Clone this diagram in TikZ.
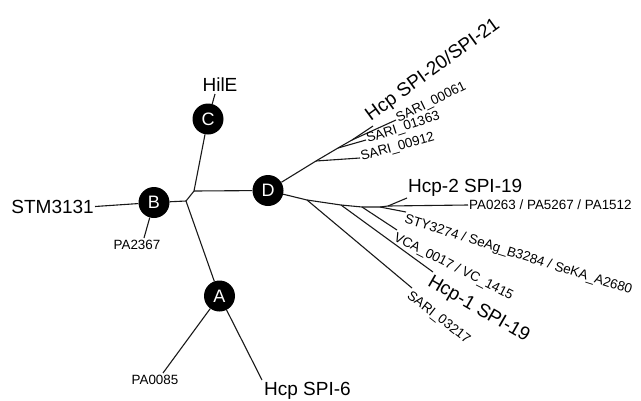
\documentclass[tikz,border=0pt]{standalone}
\usepackage{fontspec}
\setmainfont{Liberation Sans}
\usepackage{tikz}

\begin{document}
\begin{tikzpicture}[x=1pt, y=-1pt,
                hub/.style={circle, fill=black, inner sep=0pt, minimum size=31pt,
                  text=white, font=\fontsize{18}{20}\selectfont},
                branch/.style={draw=black!90, line width=1.1pt},
                smalllabel/.style={inner sep=1pt, font=\fontsize{13.4}{15}\selectfont},
                biglabel/.style={inner sep=1pt, font=\fontsize{19}{22}\selectfont}
              ]
              \useasboundingbox (0,0) rectangle (641,400);
              % internal nodes
              \node [hub] at (154,202.5) (b) {B};
              \node [hub] at (208,119) (c) {C};
              \node [hub] at (268,190.5) (d) {D};
              \node [hub] at (219.5,296) (a) {A};
              \coordinate (j1) at (186,201);
              \coordinate (j2) at (194,191);
              % inner joints under D
              \coordinate (u1) at (316,161);
              \coordinate (u2) at (338,148);
              \coordinate (u3) at (352,140);
              \coordinate (l1) at (307,200);
              \coordinate (l2) at (341,205);
              \coordinate (l3) at (362,207);
              \coordinate (l4) at (380,207);
              \coordinate (l5) at (388,206);
              % leaf ends
              \coordinate (stm) at (95,206.5);
              \coordinate (pa2367) at (144,238);
              \coordinate (hile) at (215,94);
              \coordinate (pa0085) at (163,373);
              \coordinate (spi6) at (262,380);
              \coordinate (spi20) at (373,126);
              \coordinate (sari61) at (396,120);
              \coordinate (sari1363) at (366,140);
              \coordinate (sari912) at (360,158);
              \coordinate (spi19b) at (407,198);
              \coordinate (pa0263) at (468,205);
              \coordinate (sty) at (406,212);
              \coordinate (vca) at (397,230);
              \coordinate (spi19a) at (433,272);
              \coordinate (sari3217) at (412,288);
              % tree
              \draw [branch] (b) -- (j1) -- (j2) -- (c);
              \draw [branch] (j1) -- (a);
              \draw [branch] (j2) -- (d);
              \draw [branch] (stm) -- (b);
              \draw [branch] (b) -- (pa2367);
              \draw [branch] (c) -- (hile);
              \draw [branch] (a) -- (pa0085);
              \draw [branch] (a) -- (spi6);
              \draw [branch] (d) -- (u1) -- (u2) -- (u3) -- (spi20);
              \draw [branch] (u1) -- (sari912);
              \draw [branch] (u2) -- (sari1363);
              \draw [branch] (u3) -- (sari61);
              \draw [branch] (d) -- (l1) -- (l2) -- (l3) -- (l4) -- (l5) -- (pa0263);
              \draw [branch] (l5) -- (spi19b);
              \draw [branch] (l4) -- (sty);
              \draw [branch] (l3) -- (vca);
              \draw [branch] (l2) -- (spi19a);
              \draw [branch] (l1) -- (sari3217);
              % labels
              \node [biglabel, anchor=east] at (stm) (tstm) {STM3131};
              \node [smalllabel, anchor=north] at (137,239) (tpa2367) {PA2367};
              \node [biglabel, anchor=south] at (220,93) (thile) {HilE};
              \node [smalllabel, anchor=north] at (155,374) (tpa0085) {PA0085};
              \node [biglabel, anchor=north west] at (263,381) (tspi6) {Hcp SPI-6};
              \node [biglabel, anchor=south west, rotate=36] at (spi20) (tspi20) {Hcp SPI-20/SPI-21};
              \node [smalllabel, anchor=west, rotate=26] at (sari61) (tsari61) {SARI\_00061};
              \node [smalllabel, anchor=west, rotate=18] at (sari1363) (tsari1363) {SARI\_01363};
              \node [smalllabel, anchor=west, rotate=16] at (sari912) (tsari912) {SARI\_00912};
              \node [biglabel, anchor=south west] at (spi19b) (tspi19b) {Hcp-2 SPI-19};
              \node [smalllabel, anchor=west] at (pa0263) (tpa0263) {PA0263 / PA5267 / PA1512};
              \node [smalllabel, anchor=north west, rotate=-17.5] at (sty) (tsty) {STY3274 / SeAg\_B3284 / SeKA\_A2680};
              \node [smalllabel, anchor=north west, rotate=-27] at (vca) (tvca) {VCA\_0017 / VC\_1415};
              \node [biglabel, anchor=north west, rotate=-30] at (spi19a) (tspi19a) {Hcp-1 SPI-19};
              \node [smalllabel, anchor=north west, rotate=-38] at (sari3217) (tsari3217) {SARI\_03217};
            \end{tikzpicture}
\end{document}
